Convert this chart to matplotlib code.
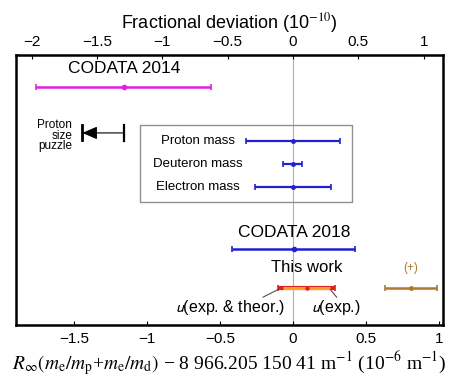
import matplotlib
matplotlib.use("Agg")
import matplotlib.pyplot as plt
from matplotlib.patches import Rectangle

plt.rcParams['font.family'] = ['Liberation Sans', 'DejaVu Sans']
plt.rcParams['mathtext.fontset'] = 'stix'

# --------- data (10^-6 m^-1 offsets) ---------
codata14_c, codata14_u = -1.16, 0.60
puzzle_end = -1.445
mass_names = ['Proton mass', 'Deuteron mass', 'Electron mass']
mass_c = [0.0, 0.0, 0.0]
mass_u = [0.32, 0.065, 0.26]
codata18_c, codata18_u = 0.005, 0.42
work_c = 0.095
work_u_total = 0.195
work_u_exp = 0.16
plus_c, plus_u = 0.81, 0.18

# fractional deviation per 10^-6 m^-1  (1e-6 / 8966.2 in units of 1e-10)
frac = 1e-6 / 8966.205 * 1e10

# row positions (axes height 0..1)
y14, y14t = 0.881, 0.948
ypuz = 0.711
ymass = [0.681, 0.596, 0.511]
y18, y18t = 0.281, 0.344
ywork, yworkt = 0.137, 0.211
yu = 0.063

fig = plt.figure(figsize=(4.57, 3.81), dpi=100)
ax = fig.add_axes([0.035, 0.147, 0.934, 0.709])
ax.set_xlim(-1.9, 1.028)
ax.set_ylim(0, 1)
ax.set_yticks([])
for s in ax.spines.values():
    s.set_linewidth(1.8)

ax.axvline(0, color='#b0b0b0', lw=0.8, zorder=0)

def bar(x, y, u, color, lw=1.8, cap=2.5, ms=3):
    ax.errorbar([x], [y], xerr=[u], fmt='o', color=color, ecolor=color,
                elinewidth=lw, capsize=cap, capthick=1.2, ms=ms)

# CODATA 2014
bar(codata14_c, y14, codata14_u, '#e020e0')
ax.text(codata14_c, y14t, 'CODATA 2014', ha='center', va='center', fontsize=12.5)

# proton size puzzle
ax.annotate('', xy=(puzzle_end, ypuz), xytext=(codata14_c, ypuz),
            arrowprops=dict(arrowstyle='-|>,head_length=0.65,head_width=0.28',
                            color='black', lw=0.8, mutation_scale=14,
                            shrinkA=0, shrinkB=0))
ax.plot([puzzle_end, puzzle_end], [ypuz - 0.028, ypuz + 0.028], color='black', lw=2)
ax.plot([codata14_c, codata14_c], [ypuz - 0.03, ypuz + 0.03], color='black', lw=1.6)
ax.text(-1.515, ypuz - 0.01, 'Proton\nsize\npuzzle', ha='right', va='center',
        fontsize=8.5, linespacing=0.8)

# inset box with mass contributions
ax.add_patch(Rectangle((-1.048, 0.456), 1.452, 0.285, fill=False,
                       edgecolor='#909090', lw=1.0))
for name, c, u, y in zip(mass_names, mass_c, mass_u, ymass):
    bar(c, y, u, '#2020d0', lw=1.6, cap=2.5, ms=2.5)
    ax.text(-0.65, y, name, ha='center', va='center', fontsize=9.5)

# CODATA 2018
bar(codata18_c, y18, codata18_u, '#2020d0')
ax.text(codata18_c, y18t, 'CODATA 2018', ha='center', va='center', fontsize=12.5)

# this work
bar(work_c, ywork, work_u_total, '#e02020', lw=3, cap=2, ms=2)
ax.errorbar([work_c], [ywork], xerr=[work_u_exp], fmt='none', ecolor='#ffa020',
            elinewidth=2.2, capsize=0)
ax.plot([work_c], [ywork], 'o', color='#e06020', ms=2)
ax.text(work_c, yworkt, 'This work', ha='center', va='center', fontsize=12)

# (+)
bar(plus_c, ywork, plus_u, '#b07830', lw=1.8, cap=2, ms=2.5)
ax.text(plus_c, yworkt, '(+)', ha='center', va='center', fontsize=8.5, color='#b07830')

ax.text(-0.43, yu, r'$u$(exp. & theor.)', ha='center', va='center', fontsize=11.5,
        math_fontfamily='stixsans')
ax.text(0.295, yu, r'$u$(exp.)', ha='center', va='center', fontsize=11.5,
        math_fontfamily='stixsans')
ax.plot([-0.205, work_c - work_u_total], [yu + 0.04, ywork - 0.005], color='#505050', lw=0.8)
ax.plot([0.3, work_c + work_u_exp], [yu + 0.04, ywork - 0.005], color='#505050', lw=0.8)

# bottom axis
ax.set_xticks([-1.5, -1, -0.5, 0, 0.5, 1])
ax.set_xticklabels(['\u22121.5', '\u22121', '\u22120.5', '0', '0.5', '1'])
ax.tick_params(axis='x', direction='in', length=3, labelsize=11, pad=5)
ax.set_xlabel(r'$R_\infty(m_\mathrm{e}/m_\mathrm{p}$+$m_\mathrm{e}/m_\mathrm{d})$'
              ' \u2212 8 966.205 150 41 m$^{-1}$ (10$^{-6}$ m$^{-1}$)',
              fontfamily='Liberation Serif', fontsize=14, labelpad=3)

# top axis: fractional deviation
top = ax.secondary_xaxis('top', functions=(lambda b: b * frac, lambda f: f / frac))
top.set_xticks([-2, -1.5, -1, -0.5, 0, 0.5, 1])
top.set_xticklabels(['\u22122', '\u22121.5', '\u22121', '\u22120.5', '0', '0.5', '1'])
top.tick_params(direction='in', length=3, labelsize=11, pad=4)
top.set_xlabel('Fractional deviation (10$^{\u221210}$)', fontsize=13, labelpad=5)

plt.savefig('out.png', dpi=100)
